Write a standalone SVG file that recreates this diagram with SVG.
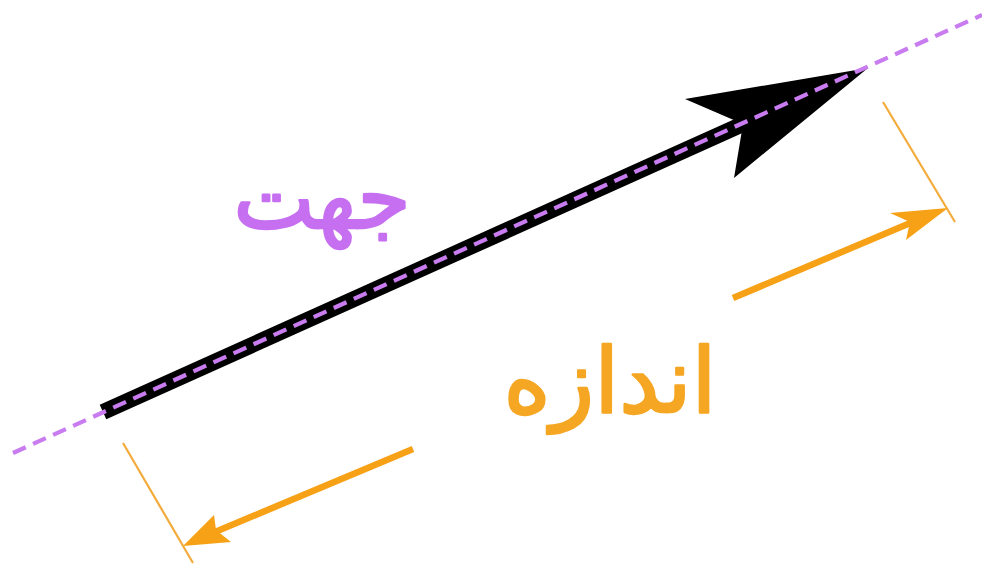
<svg xmlns="http://www.w3.org/2000/svg" width="982" height="566" viewBox="0 0 982 566">
<style>
.tick{stroke:#f3ab3c;stroke-width:2.2;fill:none}
.dim{stroke:#f7a116;stroke-width:6.5;fill:none}
.dimhead{fill:#f7a116}
.lbl{font-family:"DejaVu Sans",sans-serif;text-anchor:middle;stroke-width:2.5;stroke-linejoin:round}
</style>
<rect width="982" height="566" fill="#ffffff"/>
<g id="vector">
<line x1="103" y1="412" x2="752" y2="120" stroke="#000" stroke-width="16"/>
<polygon points="868,68 685,99 743,124 734,178" fill="#000"/>
</g>
<g id="direction-line">
<line x1="13" y1="453" x2="982" y2="15" stroke="#c97cf0" stroke-width="4.2" stroke-dasharray="14 8"/>
</g>
<g id="label-direction">
<text class="lbl" x="322" y="228" font-size="86" fill="#c66ff0" stroke="#c66ff0">جهت</text>
</g>
<g id="label-magnitude">
<text class="lbl" x="610" y="412" font-size="90" fill="#f5a623" stroke="#f5a623">اندازه</text>
</g>
<g id="connectors">
<line class="tick" x1="883" y1="102" x2="955" y2="222"/>
<line class="tick" x1="123" y1="443" x2="193" y2="563"/>
<line class="dim" x1="733" y1="298" x2="915" y2="221"/>
<polygon class="dimhead" points="948,208 890,213 910,222 906,240"/>
<line class="dim" x1="413" y1="449" x2="215" y2="532"/>
<polygon class="dimhead" points="183,546 214,515 216,530 231,542"/>
</g>
</svg>
